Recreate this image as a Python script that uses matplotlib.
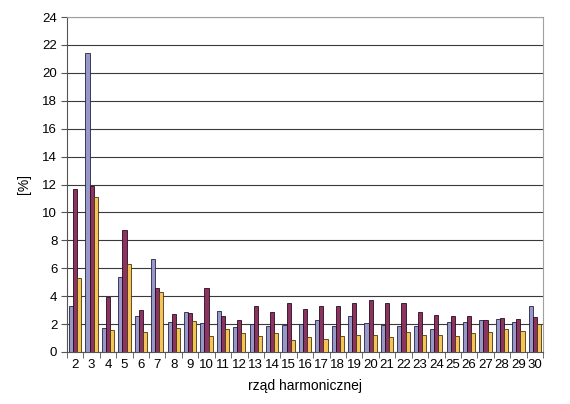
import numpy as np
import matplotlib.pyplot as plt

plt.rcParams['font.family'] = ['Liberation Sans', 'DejaVu Sans']

# harmonic order
orders = list(range(2, 31))

# three series, values in percent
s_blue = [3.28, 21.43, 1.75, 5.34, 2.61, 6.63, 2.18, 2.83, 2.08, 2.95, 1.80, 2.04,
          1.84, 1.96, 2.04, 2.27, 1.87, 2.56, 2.08, 1.96, 1.84, 1.84, 1.68, 2.13,
          2.16, 2.27, 2.39, 2.16, 3.28]
s_maroon = [11.66, 11.90, 3.95, 8.74, 2.99, 4.55, 2.73, 2.80, 4.55, 2.61, 2.31, 3.33,
            2.83, 3.54, 3.09, 3.28, 3.33, 3.54, 3.71, 3.50, 3.50, 2.85, 2.63, 2.61,
            2.61, 2.32, 2.47, 2.39, 2.49]
s_yellow = [5.27, 11.09, 1.56, 6.30, 1.46, 4.33, 1.75, 2.20, 1.15, 1.65, 1.39, 1.18,
            1.34, 0.86, 1.08, 0.96, 1.13, 1.20, 1.22, 1.08, 1.41, 1.25, 1.20, 1.15,
            1.36, 1.41, 1.63, 1.53, 2.04]

fig = plt.figure(figsize=(5.70, 4.04), dpi=100)
ax = fig.add_axes([67 / 570, 1 - 352 / 404, (543 - 67) / 570, (352 - 17) / 404])

x = np.arange(len(orders))
w = 0.25
ax.bar(x - w, s_blue, w, color='#9898C8', edgecolor='#222244', linewidth=0.6, zorder=3)
ax.bar(x, s_maroon, w, color='#8A3462', edgecolor='#2a0a1a', linewidth=0.6, zorder=3)
ax.bar(x + w, s_yellow, w, color='#F4C458', edgecolor='#4a3410', linewidth=0.6, zorder=3)

ax.set_xlim(-0.5, len(orders) - 0.5)
ax.set_ylim(0, 24)
ax.set_yticks(np.arange(0, 25, 2))
ax.yaxis.grid(True, color='#3a3a3a', linewidth=0.8, zorder=0)

ax.set_xticks(x)
ax.set_xticklabels([str(o) for o in orders])
ax.set_xticks(np.arange(-0.5, len(orders), 1), minor=True)
ax.tick_params(axis='x', which='major', length=0, labelsize=9.5, pad=5)
ax.tick_params(axis='x', which='minor', length=4, color='#555555')
ax.tick_params(axis='y', length=4, labelsize=9.5, color='#555555', pad=3)

for side in ['top', 'right']:
    ax.spines[side].set_color('#a0a0a0')
    ax.spines[side].set_linewidth(0.8)
ax.spines['left'].set_color('#555555')
ax.spines['bottom'].set_color('#555555')

ax.set_xlabel('rząd harmonicznej', fontsize=10, labelpad=6)
ax.set_ylabel('[%]', fontsize=10, labelpad=8)

fig.savefig('out.png', dpi=100)
